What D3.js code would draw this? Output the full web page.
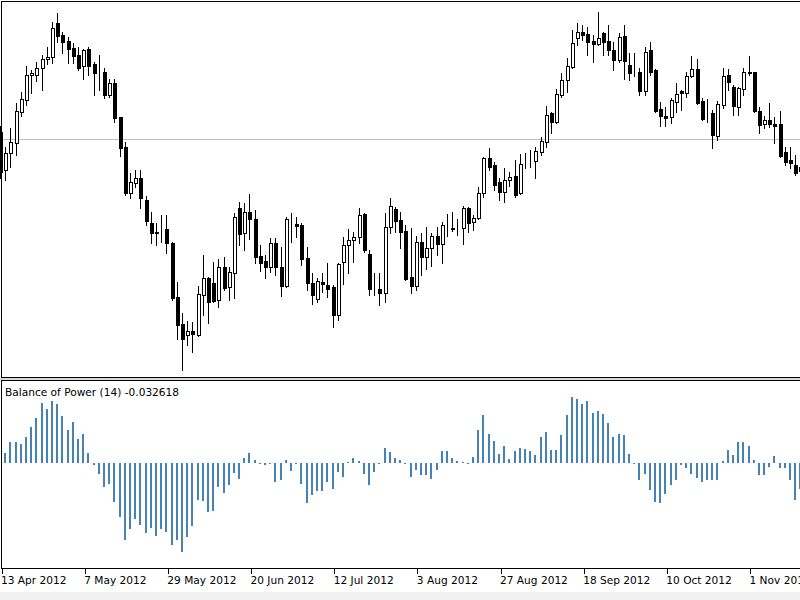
<!DOCTYPE html>
<html>
    <head>
        <title>Balance of Power (14)</title>
        <meta charset="UTF-8">
        <script type="text/javascript" src="https://cdn.jsdelivr.net/npm/d3@7/dist/d3.min.js"></script>
        <style>
            body { margin: 0; background: #fff; }
            svg { display: block; }
            text { font-family: "DejaVu Sans", Verdana, sans-serif; font-size: 10.6px; fill: #000; }
        </style>
    </head>
    <body>
        <script type="text/javascript">
            // daily bars starting 13 Apr 2012, one value per bar
            var open = [
                1.268,1.230,1.247,1.257,1.288,1.300,1.325,1.325,1.332,1.341,
                1.343,1.377,1.365,1.359,1.352,1.345,1.334,1.351,1.336,1.328,
                1.328,1.305,1.317,1.283,1.253,1.207,1.217,1.222,1.200,1.177,
                1.168,1.171,1.171,1.157,1.103,1.076,1.065,1.069,1.065,1.105,
                1.122,1.117,1.100,1.133,1.113,1.127,1.192,1.167,1.188,1.181,
                1.144,1.139,1.133,1.157,1.133,1.114,1.177,1.176,1.175,1.142,
                1.117,1.101,1.118,1.115,1.113,1.085,1.138,1.155,1.160,1.163,
                1.186,1.146,1.111,1.111,1.107,1.173,1.191,1.180,1.169,1.123,
                1.114,1.158,1.143,1.152,1.164,1.156,1.171,1.171,1.171,1.172,
                1.192,1.178,1.182,1.207,1.242,1.235,1.218,1.208,1.220,1.224,
                1.207,1.242,1.242,1.239,1.248,1.258,1.287,1.278,1.305,1.320,
                1.333,1.362,1.368,1.366,1.359,1.356,1.367,1.359,1.350,1.340,
                1.364,1.335,1.328,1.328,1.309,1.350,1.330,1.291,1.284,1.283,
                1.298,1.309,1.307,1.324,1.331,1.299,1.287,1.287,1.264,1.295,
                1.325,1.313,1.293,1.311,1.328,1.328,1.289,1.276,1.280,1.276,
                1.276,1.248,1.240,1.235,1.233
            ];
            var high = [
                1.274,1.253,1.272,1.297,1.308,1.334,1.330,1.338,1.345,1.353,
                1.378,1.387,1.368,1.363,1.357,1.353,1.351,1.353,1.338,1.345,
                1.332,1.321,1.321,1.283,1.258,1.227,1.230,1.230,1.204,1.188,
                1.177,1.185,1.185,1.158,1.118,1.087,1.079,1.078,1.114,1.145,
                1.123,1.138,1.141,1.143,1.133,1.187,1.198,1.197,1.206,1.190,
                1.155,1.145,1.162,1.162,1.153,1.183,1.187,1.183,1.177,1.153,
                1.127,1.122,1.127,1.137,1.115,1.137,1.163,1.171,1.168,1.192,
                1.187,1.150,1.127,1.127,1.187,1.202,1.193,1.188,1.175,1.172,
                1.164,1.167,1.173,1.167,1.173,1.178,1.186,1.188,1.181,1.194,
                1.193,1.185,1.213,1.243,1.252,1.238,1.222,1.232,1.228,1.240,
                1.246,1.247,1.250,1.253,1.263,1.294,1.288,1.311,1.327,1.342,
                1.370,1.377,1.375,1.373,1.365,1.388,1.368,1.375,1.358,1.367,
                1.375,1.347,1.347,1.332,1.353,1.358,1.331,1.298,1.293,1.302,
                1.317,1.310,1.328,1.344,1.341,1.302,1.301,1.290,1.299,1.332,
                1.331,1.315,1.313,1.332,1.344,1.328,1.293,1.284,1.297,1.283,
                1.289,1.253,1.253,1.245,1.240
            ];
            var low = [
                1.222,1.220,1.233,1.245,1.284,1.295,1.307,1.319,1.310,1.336,
                1.337,1.358,1.347,1.337,1.337,1.330,1.321,1.325,1.305,1.310,
                1.302,1.303,1.278,1.244,1.205,1.202,1.213,1.192,1.175,1.157,
                1.155,1.158,1.147,1.100,1.061,1.030,1.055,1.048,1.064,1.085,
                1.077,1.098,1.093,1.110,1.100,1.102,1.155,1.150,1.161,1.137,
                1.129,1.122,1.128,1.125,1.104,1.113,1.158,1.163,1.135,1.110,
                1.096,1.098,1.108,1.103,1.073,1.080,1.116,1.127,1.138,1.157,
                1.148,1.105,1.105,1.095,1.098,1.167,1.168,1.152,1.120,1.107,
                1.110,1.125,1.131,1.134,1.145,1.137,1.164,1.169,1.165,1.156,
                1.168,1.170,1.181,1.203,1.230,1.210,1.200,1.198,1.214,1.203,
                1.206,1.232,1.233,1.222,1.245,1.253,1.267,1.277,1.303,1.308,
                1.332,1.355,1.360,1.345,1.338,1.355,1.345,1.345,1.330,1.338,
                1.321,1.320,1.324,1.305,1.305,1.325,1.288,1.274,1.274,1.277,
                1.288,1.290,1.303,1.323,1.296,1.280,1.278,1.252,1.260,1.292,
                1.310,1.285,1.285,1.305,1.325,1.288,1.267,1.272,1.273,1.257,
                1.243,1.235,1.232,1.225,1.224
            ];
            var close = [
                1.228,1.247,1.258,1.289,1.301,1.325,1.327,1.332,1.341,1.343,
                1.372,1.364,1.358,1.351,1.344,1.332,1.350,1.334,1.327,1.328,
                1.305,1.317,1.282,1.252,1.207,1.218,1.222,1.202,1.179,1.167,
                1.167,1.171,1.157,1.102,1.075,1.061,1.069,1.066,1.106,1.122,
                1.098,1.099,1.133,1.112,1.128,1.183,1.166,1.188,1.181,1.143,
                1.137,1.133,1.157,1.133,1.114,1.181,1.177,1.174,1.141,1.117,
                1.105,1.119,1.116,1.111,1.085,1.136,1.155,1.160,1.163,1.185,
                1.150,1.111,1.111,1.107,1.173,1.194,1.179,1.168,1.121,1.114,
                1.158,1.143,1.152,1.164,1.156,1.175,1.171,1.172,1.171,1.192,
                1.177,1.182,1.207,1.242,1.233,1.215,1.208,1.220,1.223,1.205,
                1.236,1.242,1.242,1.249,1.259,1.285,1.278,1.306,1.320,1.334,
                1.357,1.368,1.365,1.358,1.356,1.362,1.358,1.350,1.340,1.363,
                1.339,1.327,1.328,1.309,1.348,1.328,1.289,1.284,1.282,1.300,
                1.306,1.307,1.324,1.331,1.297,1.281,1.287,1.265,1.296,1.324,
                1.318,1.294,1.312,1.328,1.327,1.289,1.275,1.280,1.276,1.274,
                1.244,1.238,1.237,1.227,1.229
            ];
            var bop = [
                0.010,0.012,0.026,0.026,0.024,0.033,0.045,0.056,0.075,0.068,
                0.078,0.074,0.059,0.041,0.051,0.030,0.036,0.013,-0.003,-0.014,
                -0.030,-0.026,-0.049,-0.068,-0.096,-0.083,-0.070,-0.078,-0.088,-0.081,
                -0.091,-0.083,-0.086,-0.103,-0.096,-0.111,-0.093,-0.079,-0.046,-0.048,
                -0.061,-0.060,-0.030,-0.038,-0.028,-0.013,-0.020,0.006,0.013,0.004,
                -0.001,-0.002,-0.001,-0.024,-0.021,0.004,-0.010,-0.001,-0.026,-0.050,
                -0.040,-0.035,-0.035,-0.024,-0.033,-0.011,-0.018,0.001,0.006,0.003,
                -0.014,-0.028,-0.011,-0.001,0.019,0.014,0.006,0.004,-0.001,-0.018,
                -0.009,-0.015,-0.015,-0.020,-0.009,0.015,0.015,0.006,0.003,0.001,
                -0.001,0.008,0.041,0.060,0.036,0.028,0.011,0.021,0.005,0.015,
                0.019,0.018,0.015,0.010,0.033,0.039,0.016,0.016,0.035,0.060,
                0.083,0.080,0.074,0.078,0.063,0.065,0.061,0.050,0.033,0.036,
                0.035,0.011,-0.001,-0.021,-0.014,-0.034,-0.049,-0.050,-0.039,-0.028,
                -0.021,-0.003,-0.006,-0.014,-0.019,-0.024,-0.021,-0.021,-0.021,0.003,
                0.016,0.010,0.026,0.026,0.021,0.004,-0.015,-0.015,-0.005,0.009,
                -0.006,-0.006,-0.021,-0.046,-0.032618
            ];
            var tickBars = [0, 16, 32, 48, 64, 80, 96, 112, 128, 144];
            var tickLabels = ["13 Apr 2012", "7 May 2012", "29 May 2012", "20 Jun 2012", "12 Jul 2012",
                "3 Aug 2012", "27 Aug 2012", "18 Sep 2012", "10 Oct 2012", "1 Nov 2012"];
            var levelPrice = 1.261;
            var title = "Balance of Power (14) -0.032618";

            var w = 800, h = 600;
            var top1 = 1.5, bot1 = 377.5, top2 = 380.5, bot2 = 568.5;

            var svg = d3.select("body").append("svg")
                    .attr("width", w)
                    .attr("height", h);

            // window background
            svg.append("rect").attr("width", w).attr("height", h).style("fill", "#ffffff");
            svg.append("rect").attr("x", 0).attr("y", 378).attr("width", w).attr("height", 2).style("fill", "#d8d8d8");
            svg.append("rect").attr("x", 0).attr("y", 592).attr("width", w).attr("height", 8).style("fill", "#f0f0f0");

            var x = d3.scaleLinear().domain([0, 144]).range([1, 749.5]);
            var y = d3.scaleLinear().domain([1.023, 1.4]).range([377, 0]);
            var yb = d3.scaleLinear().domain([-0.13, 0.1025]).range([567, 381]);

            var defs = svg.append("defs");
            defs.append("clipPath").attr("id", "clipTop")
                    .append("rect").attr("x", 0).attr("y", 2).attr("width", w).attr("height", 375);
            defs.append("clipPath").attr("id", "clipBot")
                    .append("rect").attr("x", 2).attr("y", 381).attr("width", w).attr("height", 187);

            // price level line
            svg.append("line")
                    .attr("x1", 2).attr("x2", w)
                    .attr("y1", Math.round(y(levelPrice)) + 0.5)
                    .attr("y2", Math.round(y(levelPrice)) + 0.5)
                    .style("stroke", "#c0c0c0")
                    .style("stroke-width", 1);

            var bars = d3.range(open.length);
            var candles = svg.append("g")
                    .attr("clip-path", "url(#clipTop)")
                    .attr("shape-rendering", "crispEdges");

            candles.selectAll("line.wick")
                    .data(bars)
                    .enter()
                    .append("line")
                    .attr("class", "wick")
                    .attr("x1", function(i) { return Math.round(x(i)) - 0.5; })
                    .attr("x2", function(i) { return Math.round(x(i)) - 0.5; })
                    .attr("y1", function(i) { return Math.round(y(high[i])); })
                    .attr("y2", function(i) { return Math.round(y(low[i])) + 1; })
                    .style("stroke", "#000")
                    .style("stroke-width", 1);

            candles.selectAll("rect.body")
                    .data(bars)
                    .enter()
                    .append("rect")
                    .attr("class", "body")
                    .attr("x", function(i) { return Math.round(x(i)) - 2 + 0.5; })
                    .attr("y", function(i) { return Math.round(y(Math.max(open[i], close[i]))) + 0.5; })
                    .attr("width", 3)
                    .attr("height", function(i) {
                        return Math.round(y(Math.min(open[i], close[i]))) - Math.round(y(Math.max(open[i], close[i])));
                    })
                    .style("fill", function(i) { return close[i] >= open[i] ? "#fff" : "#000"; })
                    .style("stroke", "#000")
                    .style("stroke-width", 1);

            // balance of power histogram
            var zero = Math.round(yb(0));
            svg.append("g")
                    .attr("clip-path", "url(#clipBot)")
                    .attr("shape-rendering", "crispEdges")
                    .selectAll("rect")
                    .data(bars)
                    .enter()
                    .append("rect")
                    .attr("x", function(i) { return Math.round(x(i)) - 2; })
                    .attr("width", 2)
                    .attr("y", function(i) { return Math.min(zero, Math.round(yb(bop[i]))); })
                    .attr("height", function(i) { return Math.max(1, Math.abs(Math.round(yb(bop[i])) - zero)); })
                    .style("fill", "#4682b4");

            svg.append("text")
                    .attr("x", 5)
                    .attr("y", 396)
                    .text(title);

            // frames
            var frame = svg.append("g")
                    .attr("shape-rendering", "crispEdges")
                    .style("stroke", "#000")
                    .style("stroke-width", 1)
                    .style("fill", "none");
            frame.append("path").attr("d", "M" + (w + 1) + "," + top1 + "H1.5V" + bot1 + "H" + (w + 1));
            frame.append("path").attr("d", "M" + (w + 1) + "," + top2 + "H1.5V" + bot2 + "H" + (w + 1));

            var axis = d3.axisBottom(x)
                    .tickValues(tickBars)
                    .tickFormat(function(d, i) { return tickLabels[i]; })
                    .tickSize(5)
                    .tickSizeOuter(0);

            var gx = svg.append("g")
                    .attr("transform", "translate(0," + bot2 + ")")
                    .call(axis);
            gx.select(".domain").remove();
            gx.selectAll(".tick line")
                    .attr("shape-rendering", "crispEdges")
                    .attr("transform", "translate(0.5,0)")
                    .style("stroke", "#000");
            gx.selectAll(".tick text")
                    .attr("text-anchor", "start")
                    .attr("x", -0.5)
                    .attr("y", 15.5)
                    .attr("dy", 0)
                    .style("font-family", "'DejaVu Sans', Verdana, sans-serif")
                    .style("font-size", "10.6px")
                    .style("fill", "#000");
        </script>
    </body>
</html>
